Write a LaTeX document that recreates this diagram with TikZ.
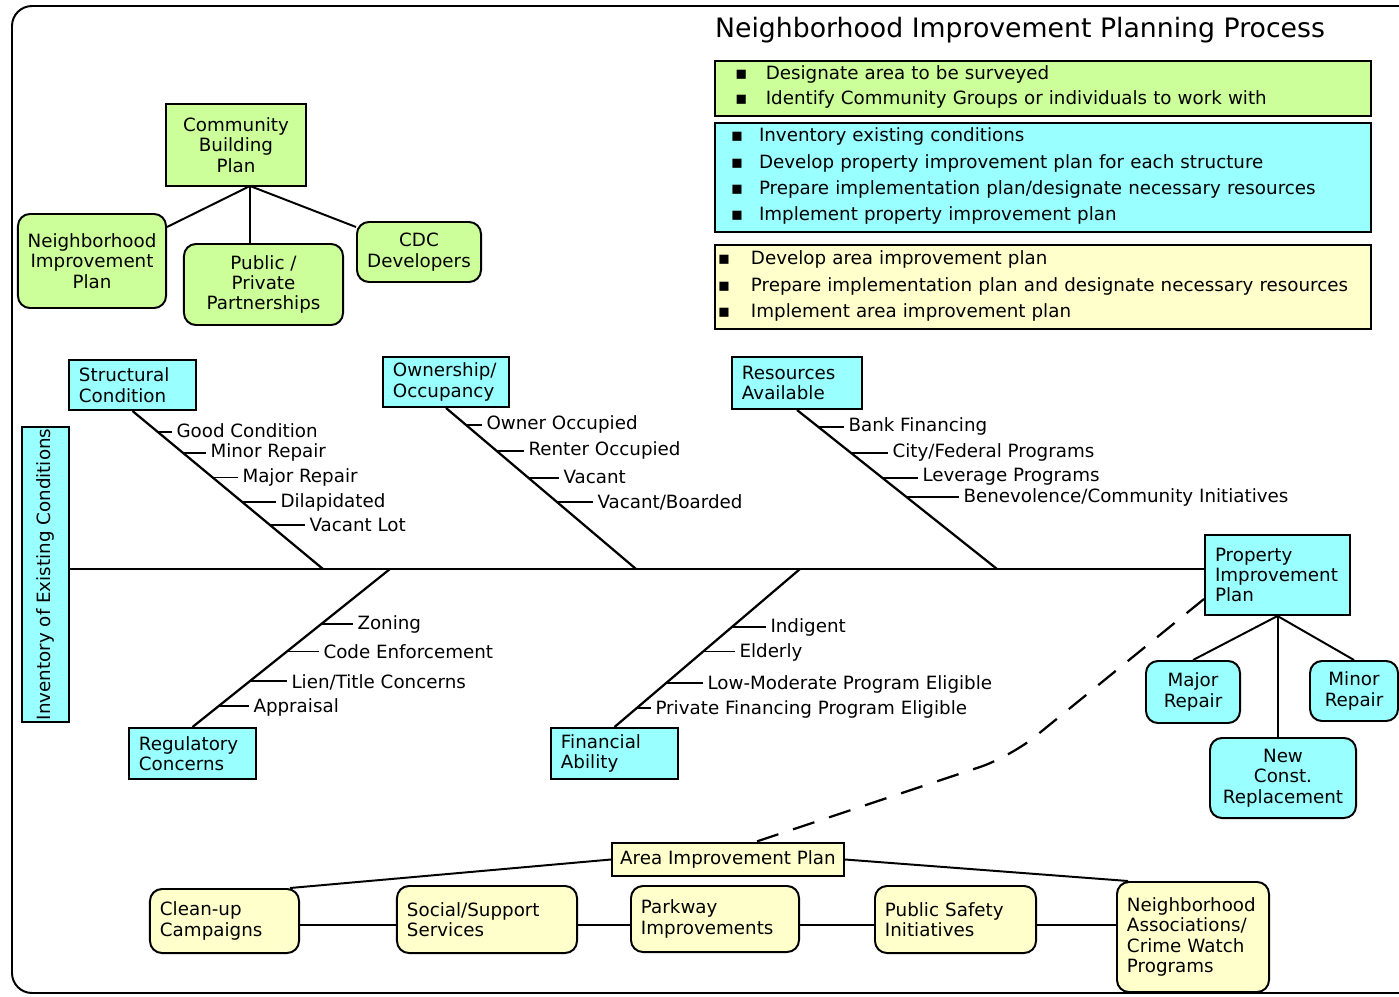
\documentclass[tikz,border=0pt]{standalone}
\usepackage{fontspec}
\setmainfont{DejaVu Sans}
\usepackage{tikz}
\definecolor{greenfill}{HTML}{CCFF99}
\definecolor{cyanfill}{HTML}{99FFFF}
\definecolor{yellowfill}{HTML}{FFFFCC}

\begin{document}
\begin{tikzpicture}[x=0.025cm, y=-0.025cm,
    every node/.style={font=\fontsize{13}{14.5}\selectfont},
    box node/.style={draw, line width=1.4pt, inner sep=0pt, align=center},
    round node/.style={box node, rounded corners=0.3cm},
    text node/.style={box node, align=left, inner xsep=0.25cm},
    round text node/.style={text node, rounded corners=0.3cm},
    list node/.style={draw, line width=1.4pt, anchor=north west, text width=16.4cm, inner xsep=0pt, align=left},
    leaf node/.style={anchor=west, inner xsep=3pt, inner ysep=1pt},
    bone/.style={line width=1.6pt},
    link/.style={line width=1.4pt},
    ]
  \useasboundingbox (0,0) rectangle (1399,997);
  \draw[line width=1.4pt, rounded corners=0.5cm] (12,6) rectangle (1430,993);

  \node[font=\fontsize{19}{22}\selectfont] (title) at (1020,30) {Neighborhood Improvement Planning Process};

  \node[list node, fill=greenfill, minimum height=1.15cm] (survey) at (714,60) {%
    \begin{tabular}{@{\hspace{0.5cm}}p{0.77cm}@{}l@{}}
    ▪ & Designate area to be surveyed\\[3.3pt]
    ▪ & Identify Community Groups or individuals to work with
    \end{tabular}};
  \node[list node, fill=cyanfill, minimum height=2.675cm] (steps) at (714,122) {%
    \begin{tabular}{@{\hspace{0.4cm}}p{0.7cm}@{}l@{}}
    ▪ & Inventory existing conditions\\[4.2pt]
    ▪ & Develop property improvement plan for each structure\\[4.2pt]
    ▪ & Prepare implementation plan/designate necessary resources\\[4.2pt]
    ▪ & Implement property improvement plan
    \end{tabular}};
  \node[list node, fill=yellowfill, minimum height=2.1cm] (area) at (714,244) {%
    \begin{tabular}{@{\hspace{0.075cm}}p{0.825cm}@{}l@{}}
    ▪ & Develop area improvement plan\\[4.2pt]
    ▪ & Prepare implementation plan and designate necessary resources\\[4.2pt]
    ▪ & Implement area improvement plan
    \end{tabular}};

  % community building plan
  \node[box node, fill=greenfill, minimum width=3.5cm, minimum height=2.05cm] (cbp) at (236,145) {Community\\Building\\Plan};
  \node[round node, fill=greenfill, minimum width=3.7cm, minimum height=2.35cm] (nip) at (92,261) {Neighborhood\\Improvement\\Plan};
  \node[round node, fill=greenfill, minimum width=3.975cm, minimum height=2.025cm] (ppp) at (263.5,284.5) {Public /\\Private\\Partnerships};
  \node[round node, fill=greenfill, minimum width=3.1cm, minimum height=1.5cm] (cdc) at (419,252) {CDC\\Developers};
  \coordinate (cbj) at (250,186);
  \draw[link] (cbj) -- ([yshift=-0.35cm]nip.north east);
  \draw[link] (cbj) -- (cbj |- ppp.north);
  \draw[link] (cbj) -- ([yshift=-0.15cm]cdc.north west);

  % fishbone
  \node[box node, fill=cyanfill, rotate=90, minimum width=7.375cm, minimum height=1.175cm] (inv) at (45.5,574.5) {Inventory of Existing Conditions};
  \node[text node, fill=cyanfill, minimum width=3.175cm, text width=2.675cm, minimum height=1.25cm] (sc) at (132.5,385) {Structural\\Condition};
  \node[text node, fill=cyanfill, minimum width=3.15cm, text width=2.65cm, minimum height=1.25cm] (oc) at (446,382) {Ownership/\\Occupancy};
  \node[text node, fill=cyanfill, minimum width=3.25cm, text width=2.75cm, minimum height=1.3cm] (ra) at (797,383) {Resources\\Available};
  \node[text node, fill=cyanfill, minimum width=3.175cm, text width=2.675cm, minimum height=1.275cm] (rc) at (192.5,753.5) {Regulatory\\Concerns};
  \node[text node, fill=cyanfill, minimum width=3.175cm, text width=2.675cm, minimum height=1.275cm] (fa) at (614.5,753.5) {Financial\\Ability};
  \node[text node, fill=cyanfill, minimum width=3.625cm, text width=3.125cm, minimum height=2cm] (pip) at (1277.5,575) {Property\\Improvement\\Plan};

  \coordinate (sp) at (700,569);
  \coordinate (b1) at (323,569);
  \coordinate (b2) at (636,569);
  \coordinate (b3) at (997,569);
  \coordinate (b4) at (390,569);
  \coordinate (b5) at (800,569);
  \draw[bone] (inv.south |- sp) -- (pip.west |- sp);

  \draw[bone] (sc.south) -- (b1) coordinate[pos=0.132] (ts1) coordinate[pos=0.264] (ts2)
    coordinate[pos=0.421] (ts3) coordinate[pos=0.579] (ts4) coordinate[pos=0.723] (ts5);
  \draw[bone] (oc.south) -- (b2) coordinate[pos=0.105] (to1) coordinate[pos=0.265] (to2)
    coordinate[pos=0.432] (to3) coordinate[pos=0.586] (to4);
  \draw[bone] (ra.south) -- (b3) coordinate[pos=0.106] (tr1) coordinate[pos=0.269] (tr2)
    coordinate[pos=0.425] (tr3) coordinate[pos=0.55] (tr4);
  \draw[bone] (rc.north) -- (b4) coordinate[pos=0.654] (tg1) coordinate[pos=0.478] (tg2)
    coordinate[pos=0.289] (tg3) coordinate[pos=0.132] (tg4);
  \draw[bone] (fa.north) -- (b5) coordinate[pos=0.635] (tf1) coordinate[pos=0.478] (tf2)
    coordinate[pos=0.277] (tf3) coordinate[pos=0.119] (tf4);

  \node[leaf node] (s1) at (172,431) {Good Condition};
  \node[leaf node] (s2) at (206,452) {Minor Repair};
  \node[leaf node] (s3) at (238,477) {Major Repair};
  \node[leaf node] (s4) at (276,502) {Dilapidated};
  \node[leaf node] (s5) at (305,525) {Vacant Lot};
  \node[leaf node] (o1) at (482,424) {Owner Occupied};
  \node[leaf node] (o2) at (524,450) {Renter Occupied};
  \node[leaf node] (o3) at (559,477) {Vacant};
  \node[leaf node] (o4) at (593,502) {Vacant/Boarded};
  \node[leaf node] (r1) at (844,426) {Bank Financing};
  \node[leaf node] (r2) at (888,452) {City/Federal Programs};
  \node[leaf node] (r3) at (918,477) {Leverage Programs};
  \node[leaf node] (r4) at (959,497) {Benevolence/Community Initiatives};
  \node[leaf node] (g1) at (353,624) {Zoning};
  \node[leaf node] (g2) at (319,652) {Code Enforcement};
  \node[leaf node] (g3) at (287,682) {Lien/Title Concerns};
  \node[leaf node] (g4) at (249,707) {Appraisal};
  \node[leaf node] (f1) at (766,627) {Indigent};
  \node[leaf node] (f2) at (735,652) {Elderly};
  \node[leaf node] (f3) at (703,684) {Low-Moderate Program Eligible};
  \node[leaf node] (f4) at (651,709) {Private Financing Program Eligible};

  \draw[link] (ts1) -- (ts1 -| s1.west);
  \draw[link] (ts2) -- (ts2 -| s2.west);
  \draw[link] (ts3) -- (ts3 -| s3.west);
  \draw[link] (ts4) -- (ts4 -| s4.west);
  \draw[link] (ts5) -- (ts5 -| s5.west);
  \draw[link] (to1) -- (to1 -| o1.west);
  \draw[link] (to2) -- (to2 -| o2.west);
  \draw[link] (to3) -- (to3 -| o3.west);
  \draw[link] (to4) -- (to4 -| o4.west);
  \draw[link] (tr1) -- (tr1 -| r1.west);
  \draw[link] (tr2) -- (tr2 -| r2.west);
  \draw[link] (tr3) -- (tr3 -| r3.west);
  \draw[link] (tr4) -- (tr4 -| r4.west);
  \draw[link] (tg1) -- (tg1 -| g1.west);
  \draw[link] (tg2) -- (tg2 -| g2.west);
  \draw[link] (tg3) -- (tg3 -| g3.west);
  \draw[link] (tg4) -- (tg4 -| g4.west);
  \draw[link] (tf1) -- (tf1 -| f1.west);
  \draw[link] (tf2) -- (tf2 -| f2.west);
  \draw[link] (tf3) -- (tf3 -| f3.west);
  \draw[link] (tf4) -- (tf4 -| f4.west);

  % property improvement plan
  \node[round node, fill=cyanfill, minimum width=2.35cm, minimum height=1.55cm] (major) at (1193,692) {Major\\Repair};
  \node[round node, fill=cyanfill, minimum width=2.2cm, minimum height=1.5cm] (minor) at (1354,691) {Minor\\Repair};
  \node[round node, fill=cyanfill, minimum width=3.65cm, minimum height=2cm] (newc) at (1283,778) {New\\Const.\\Replacement};
  \draw[link] (pip.south) -- (major.north);
  \draw[link] (pip.south) -- (pip.south |- newc.north);
  \draw[link] (pip.south) -- (minor.north);

  % area improvement plan
  \node[box node, fill=yellowfill, minimum width=5.8cm, minimum height=0.825cm] (aip) at (728,859.5) {Area Improvement Plan};
  \node[round text node, fill=yellowfill, minimum width=3.725cm, text width=3.225cm, minimum height=1.6cm] (clean) at (224.5,921) {Clean-up\\Campaigns};
  \node[round text node, fill=yellowfill, minimum width=4.5cm, text width=4cm, minimum height=1.675cm] (social) at (487,919.5) {Social/Support\\Services};
  \node[round text node, fill=yellowfill, minimum width=4.2cm, text width=3.7cm, minimum height=1.65cm] (parkway) at (715,919) {Parkway\\Improvements};
  \node[round text node, fill=yellowfill, minimum width=4.025cm, text width=3.525cm, minimum height=1.675cm] (safety) at (955.5,919.5) {Public Safety\\Initiatives};
  \node[round text node, fill=yellowfill, minimum width=3.8cm, text width=3.3cm, minimum height=2.75cm] (nbh) at (1193,937) {Neighborhood\\Associations/\\Crime Watch\\Programs};

  \coordinate (row) at (700,925);
  \draw[link] (clean.east |- row) -- (social.west |- row);
  \draw[link] (social.east |- row) -- (parkway.west |- row);
  \draw[link] (parkway.east |- row) -- (safety.west |- row);
  \draw[link] (safety.east |- row) -- (nbh.west |- row);
  \draw[link] (aip.west) -- ([xshift=-0.25cm]clean.north east);
  \draw[link] (aip.east) -- ([xshift=0.3cm]nbh.north west);

  \coordinate (bend) at (1010,757);
  \draw[line width=1.6pt, dash pattern=on 16pt off 11pt, rounded corners=0.8cm]
    ([yshift=0.425cm]pip.south west) -- (bend) -- ([xshift=0.675cm]aip.north);
\end{tikzpicture}
\end{document}
